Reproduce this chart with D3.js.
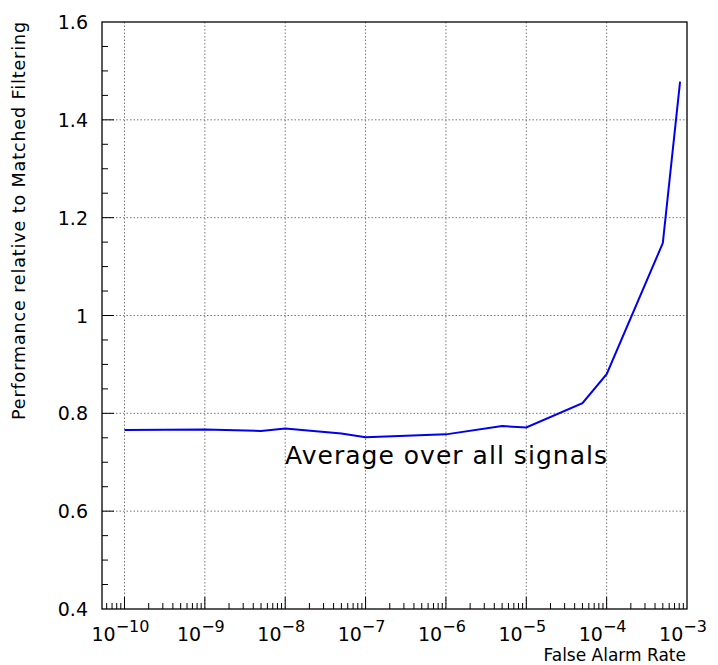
<!DOCTYPE html>
<html><head><meta charset="utf-8">
<script src="https://cdn.jsdelivr.net/npm/d3@7"></script>
<style>body{margin:0;background:#fff}text{font-family:"DejaVu Sans",sans-serif}</style>
</head><body>
<svg id="chart" width="718" height="665"></svg>
<script>
// false alarm rate vs relative performance
var falseAlarm = [1e-10, 1e-9, 5e-9, 1e-8, 5e-8, 1e-7, 1e-6, 5e-6, 1e-5, 5e-5, 1e-4, 5e-4, 8.2e-4];
var perf = [0.766, 0.767, 0.764, 0.769, 0.759, 0.751, 0.757, 0.774, 0.771, 0.821, 0.880, 1.148, 1.478];
var xDecades = [-10, -9, -8, -7, -6, -5, -4, -3];
var yTicks = [0.4, 0.6, 0.8, 1, 1.2, 1.4, 1.6];

var svg = d3.select("#chart");
var pLeft = 102, pRight = 687, pTop = 22, pBottom = 609;

var x = d3.scaleLog().domain([Math.pow(10, -10.28), 1e-3]).range([pLeft, pRight]);
var y = d3.scaleLinear().domain([0.4, 1.6]).range([pBottom, pTop]);

// grid
svg.selectAll(".gx").data(xDecades.slice(0, -1)).enter().append("line")
  .attr("x1", function (d) { return x(Math.pow(10, d)); })
  .attr("x2", function (d) { return x(Math.pow(10, d)); })
  .attr("y1", pTop).attr("y2", pBottom)
  .attr("stroke", "#777").attr("stroke-dasharray", "1.5,2");
svg.selectAll(".gy").data(yTicks.slice(1, -1)).enter().append("line")
  .attr("y1", function (d) { return y(d); }).attr("y2", function (d) { return y(d); })
  .attr("x1", pLeft).attr("x2", pRight)
  .attr("stroke", "#777").attr("stroke-dasharray", "1.5,2");

// minor ticks
var xMinor = [];
for (var e = -11; e < -3; e++)
  for (var k = 1; k < 10; k++) {
    var v = k * Math.pow(10, e);
    if (v >= x.domain()[0] && v <= 1e-3) xMinor.push({v: v, major: k == 1});
  }
svg.selectAll(".tx").data(xMinor).enter().append("line")
  .attr("x1", function (d) { return x(d.v); }).attr("x2", function (d) { return x(d.v); })
  .attr("y1", pBottom).attr("y2", function (d) { return pBottom - (d.major ? 12 : 6); })
  .attr("stroke", "#000");
var yMinor = d3.range(0.45, 1.6, 0.05);
svg.selectAll(".ty").data(yMinor).enter().append("line")
  .attr("y1", function (d) { return y(d); }).attr("y2", function (d) { return y(d); })
  .attr("x1", pLeft).attr("x2", function (d, i) { return pLeft + (i % 4 == 3 ? 12 : 6); })
  .attr("stroke", "#000");

// frame
svg.append("rect").attr("x", pLeft).attr("y", pTop).attr("width", pRight - pLeft).attr("height", pBottom - pTop)
  .attr("fill", "none").attr("stroke", "#000").attr("stroke-width", 1.3);

// tick labels
svg.selectAll(".ly").data(yTicks).enter().append("text")
  .attr("x", pLeft - 14).attr("y", function (d) { return y(d) + 7; })
  .attr("text-anchor", "end").attr("font-size", 19)
  .text(function (d) { return d; });
svg.selectAll(".lx").data(xDecades).enter().append("text")
  .attr("x", function (d) { return x(Math.pow(10, d)) - 4; }).attr("y", 641)
  .attr("text-anchor", "middle").attr("font-size", 19)
  .each(function (d) {
    d3.select(this).append("tspan").text("10");
    d3.select(this).append("tspan").attr("dy", -9).attr("font-size", 16).text("\u2212" + (-d));
  });

// axis titles
svg.append("text").attr("x", 686).attr("y", 661).attr("text-anchor", "end")
  .attr("font-size", 17).text("False Alarm Rate");
svg.append("text").attr("transform", "translate(25,22) rotate(-90)").attr("text-anchor", "end")
  .attr("font-size", 17.5).attr("textLength", 398).text("Performance relative to Matched Filtering");

// curve
svg.append("path").datum(d3.range(falseAlarm.length))
  .attr("fill", "none").attr("stroke", "#0000ee").attr("stroke-width", 2)
  .attr("d", d3.line().x(function (i) { return x(falseAlarm[i]); }).y(function (i) { return y(perf[i]); }));

svg.append("text").attr("x", 285).attr("y", 464).attr("font-size", 25)
  .attr("textLength", 322).text("Average over all signals");
</script>
</body></html>
